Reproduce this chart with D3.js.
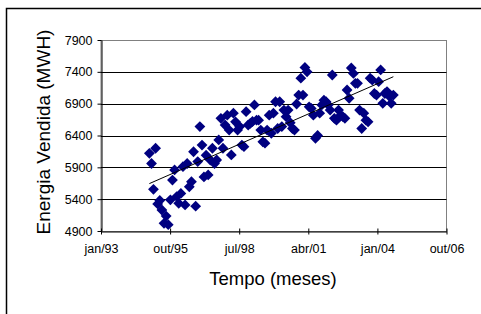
<!DOCTYPE html>
<html>
<head>
<meta charset="utf-8">
<title>Energia Vendida</title>
<script src="https://cdn.jsdelivr.net/npm/d3@7/dist/d3.min.js"></script>
<style>
  body { margin: 0; background: #fff; }
  text { font-family: "Liberation Sans", Arial, sans-serif; fill: #000; }
</style>
</head>
<body>
<svg id="chart" width="481" height="314"></svg>
<script>
// monthly sales, jan/95 .. set/04
var startYear = 1995;
var energia = [
  6120, 5960, 5555, 6200, 5325, 5380, 5230, 5020, 5135, 5000, 5390, 5700,
  5860, 5440, 5335, 5490, 5910, 5310, 5960, 5595, 5675, 6145, 5290, 5990,
  6540, 6250, 5750, 6090, 5780, 6015, 6200, 5960, 6015, 6330, 6670, 6200,
  6565, 6720, 6485, 6095, 6750, 6615, 6485, 6540, 6250, 6225, 6775, 6565,
  6590, 6620, 6880, 6640, 6640, 6485, 6300, 6280, 6485, 6720, 6435, 6750,
  6930, 6510, 6930, 6540, 6800, 6695, 6800, 6600, 6510, 6485, 6895, 7035,
  7300, 7035, 7470, 7400, 6850, 6825, 6720, 6355, 6400, 6750, 6880, 6955,
  6930, 6880, 6800, 7350, 6670, 6640, 6800, 6720, 6695, 6670, 7115, 6985,
  7460, 7375, 7220, 7220, 6800, 6510, 6750, 6640, 6615, 7300, 7270, 7060,
  7035, 7245, 7430, 6905, 7060, 7090, 7020, 6905, 7035
];

// x axis is an Excel serial-number axis, 34000..39000 step 1000
var xTickSerials = [34000, 35000, 36000, 37000, 38000, 39000];
var xTickLabels = ["jan/93", "out/95", "jul/98", "abr/01", "jan/04", "out/06"];
var yTicks = [4900, 5400, 5900, 6400, 6900, 7400, 7900];

var serialToDate = s => new Date(Date.UTC(1899, 11, 30) + s * 864e5);

var data = energia.map((v, i) => ({ date: new Date(Date.UTC(startYear, i, 1)), value: v }));

var svg = d3.select('#chart');
var plotLeft = 101, plotRight = 446.5, plotTop = 40, plotBottom = 231;

var x = d3.scaleUtc()
  .domain([serialToDate(xTickSerials[0]), serialToDate(xTickSerials[xTickSerials.length - 1])])
  .range([plotLeft, plotRight]);
var y = d3.scaleLinear()
  .domain([yTicks[0], yTicks[yTicks.length - 1]])
  .range([plotBottom, plotTop]);

// outer chart border (only top and left visible)
svg.append('path')
  .attr('d', 'M6.5,320 V8.5 H490')
  .attr('fill', 'none')
  .attr('stroke', '#000')
  .attr('stroke-width', 1.5);

// plot area frame
svg.append('rect')
  .attr('x', plotLeft).attr('y', plotTop + 0.5)
  .attr('width', plotRight - plotLeft).attr('height', plotBottom - plotTop)
  .attr('fill', 'none')
  .attr('stroke', '#808080')
  .attr('stroke-width', 1);

// gridlines
svg.append('g')
  .selectAll('line')
  .data(yTicks.slice(1, -1))
  .join('line')
  .attr('x1', plotLeft).attr('x2', plotRight)
  .attr('y1', d => Math.round(y(d)) + 0.5).attr('y2', d => Math.round(y(d)) + 0.5)
  .attr('stroke', '#000');

// y axis
var yAxis = svg.append('g')
  .attr('transform', 'translate(' + (plotLeft + 0.5) + ',0)')
  .call(d3.axisLeft(y).tickValues(yTicks).tickSize(4).tickSizeOuter(0).tickPadding(5).tickFormat(d3.format('d')));
yAxis.select('.domain').attr('stroke', '#000');
yAxis.selectAll('.tick line').attr('stroke', '#000');
yAxis.selectAll('text').style('font-size', '12.5px').style('font-family', '"Liberation Sans", Arial, sans-serif');

// x axis
var xAxis = svg.append('g')
  .attr('transform', 'translate(0,' + (plotBottom + 0.5) + ')')
  .call(d3.axisBottom(x)
    .tickValues(xTickSerials.map(serialToDate))
    .tickSize(3).tickSizeOuter(0).tickPadding(10)
    .tickFormat((d, i) => xTickLabels[i]));
xAxis.select('.domain').attr('stroke', '#000');
xAxis.selectAll('.tick line').attr('y1', -3).attr('y2', 3).attr('stroke', '#000');
xAxis.selectAll('text').style('font-size', '12.5px').style('font-family', '"Liberation Sans", Arial, sans-serif');

// points
var diamond = 'M0,-5.4 L5.4,0 L0,5.4 L-5.4,0 Z';
svg.append('g')
  .selectAll('path')
  .data(data)
  .join('path')
  .attr('transform', d => 'translate(' + x(d.date) + ',' + y(d.value) + ')')
  .attr('d', diamond)
  .attr('fill', '#000080');

// linear trendline (least squares on date)
var xs = data.map(d => +d.date), ys = data.map(d => d.value);
var mx = d3.mean(xs), my = d3.mean(ys);
var slope = d3.sum(xs, (v, i) => (v - mx) * (ys[i] - my)) / d3.sum(xs, v => (v - mx) * (v - mx));
var icpt = my - slope * mx;
var ends = [xs[0], xs[xs.length - 1]];
svg.append('line')
  .attr('x1', x(ends[0])).attr('y1', y(icpt + slope * ends[0]))
  .attr('x2', x(ends[1])).attr('y2', y(icpt + slope * ends[1]))
  .attr('stroke', '#000')
  .attr('stroke-width', 1);

// titles
svg.append('text')
  .attr('transform', 'translate(50,132) rotate(-90)')
  .attr('text-anchor', 'middle')
  .style('font-size', '19px')
  .text('Energia Vendida (MWH)');

svg.append('text')
  .attr('x', 273).attr('y', 285)
  .attr('text-anchor', 'middle')
  .style('font-size', '18.5px')
  .text('Tempo (meses)');
</script>
</body>
</html>
